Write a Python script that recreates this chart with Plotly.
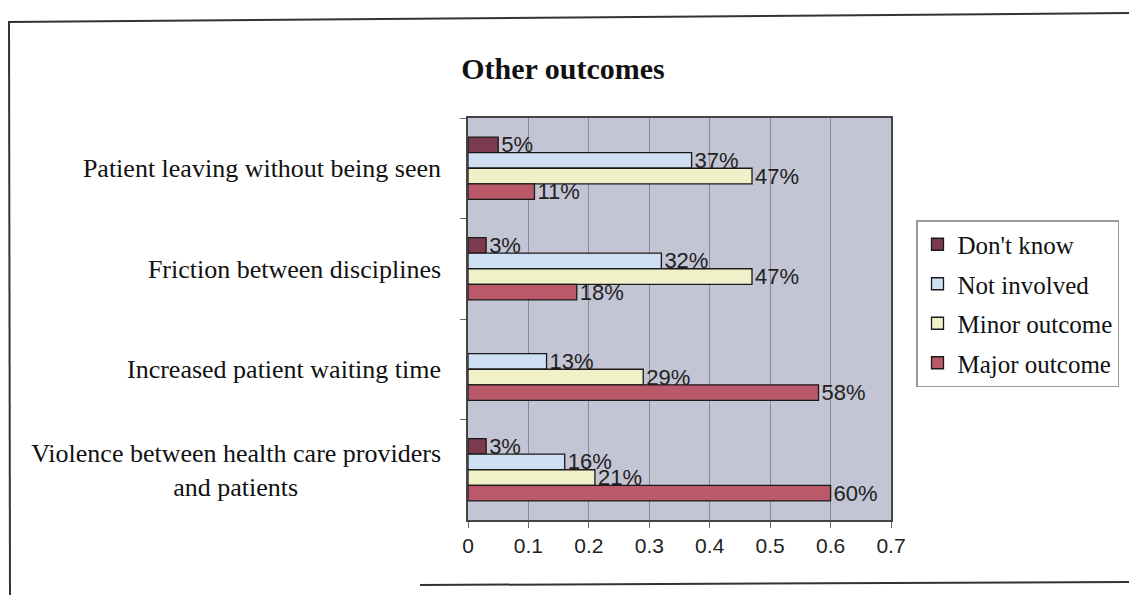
import plotly.graph_objects as go

categories = [
    "Patient leaving without being seen",
    "Friction between disciplines",
    "Increased patient waiting time",
    "Violence between health care providers<br>and patients" + "\u00a0" * 22,
]
series_names = ["Don't know", "Not involved", "Minor outcome", "Major outcome"]
dont_know = [0.05, 0.03, None, 0.03]
not_involved = [0.37, 0.32, 0.13, 0.16]
minor_outcome = [0.47, 0.47, 0.29, 0.21]
major_outcome = [0.11, 0.18, 0.58, 0.60]
x_ticks = [0, 0.1, 0.2, 0.3, 0.4, 0.5, 0.6, 0.7]
x_tick_labels = ["0", "0.1", "0.2", "0.3", "0.4", "0.5", "0.6", "0.7"]

colors = ["#7b3a4d", "#cddff0", "#f1f1c9", "#b9596a"]
all_values = [dont_know, not_involved, minor_outcome, major_outcome]

W, H = 1129, 595
L, R, T, B = 468, 238, 118, 75
PW, PH = W - L - R, H - T - B


def px(xp):
    return (xp - L) / PW


def py(yp):
    return (H - B - yp) / PH


fig = go.Figure()
for i, (name, vals, col) in enumerate(zip(series_names, all_values, colors)):
    fig.add_trace(go.Bar(
        name=name,
        y=categories,
        x=vals,
        orientation="h",
        marker=dict(color=col, line=dict(color="#1a1a1a", width=1.3)),
        text=[("" if v is None else f"{round(v * 100)}%") for v in vals],
        textposition="outside",
        constraintext="none",
        textfont=dict(family="Liberation Sans, Arial", size=22, color="#222"),
        cliponaxis=False,
        legendgroup=name,
    ))

fig.update_layout(
    width=W, height=H,
    margin=dict(l=L, r=R, t=T, b=B, autoexpand=False),
    paper_bgcolor="white",
    plot_bgcolor="#c3c4d4",
    barmode="group",
    bargap=0.38,
    bargroupgap=0,
    title=dict(
        text="<b>Other outcomes</b>",
        font=dict(family="Liberation Serif, Times New Roman", size=30, color="#111"),
        xref="container", x=563 / W, xanchor="center",
        yref="container", y=1 - 68 / H, yanchor="middle",
    ),
    legend=dict(
        x=px(916), xanchor="left",
        y=py(220), yanchor="top",
        font=dict(family="Liberation Serif, Times New Roman", size=25, color="#111"),
        bordercolor="#999", borderwidth=1.5,
        bgcolor="white",
        tracegroupgap=4,
        traceorder="grouped",
        itemwidth=30,
    ),
    showlegend=True,
)

fig.update_xaxes(
    range=[0, 0.7],
    tickvals=x_ticks,
    ticktext=x_tick_labels,
    showgrid=True, gridcolor="#8a8a96", gridwidth=1,
    showline=True, linecolor="#444", linewidth=1.5, mirror=True,
    ticks="outside", ticklen=6, tickcolor="#666",
    tickfont=dict(family="Liberation Sans, Arial", size=21, color="#222"),
    zeroline=False,
    fixedrange=True,
    automargin=False,
)
fig.update_yaxes(
    categoryorder="array", categoryarray=categories,
    autorange="reversed",
    showline=True, linecolor="#444", linewidth=1.5, mirror=True,
    ticks="outside", ticklen=6, tickcolor="#666",
    tickson="boundaries",
    ticklabelstandoff=20,
    tickfont=dict(family="Liberation Serif, Times New Roman", size=26, color="#111"),
    showgrid=False,
    fixedrange=True,
    automargin=False,
)

frame = dict(type="line", xref="paper", yref="paper", line=dict(color="#333", width=2))
fig.add_shape(**frame, x0=px(8), y0=py(22), x1=px(1129), y1=py(13))
fig.add_shape(**frame, x0=px(9), y0=py(22), x1=px(10), y1=py(595))
fig.add_shape(**frame, x0=px(420), y0=py(585), x1=px(1129), y1=py(582))

fig.write_html(
    "out.html",
    config={"displayModeBar": False},
    post_script="document.body.style.margin='0';document.body.style.overflow='hidden';",
)
